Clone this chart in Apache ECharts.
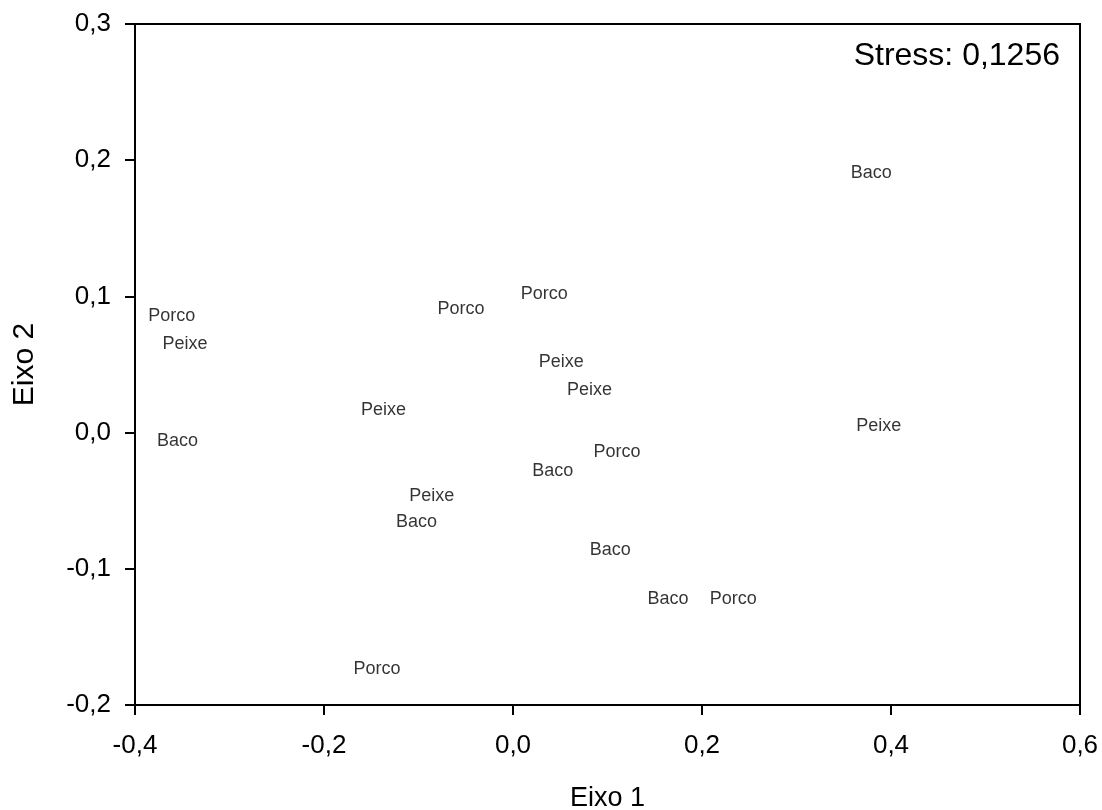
<!DOCTYPE html>
<html><head><meta charset="utf-8">
<script src="https://cdn.jsdelivr.net/npm/echarts@6/dist/echarts.min.js"></script>
<style>html,body{margin:0;padding:0;background:#fff}#c{width:1102px;height:810px}</style>
</head><body><div id="c"></div>
<script>
const labels = ["Porco","Peixe","Baco","Porco","Porco","Peixe","Peixe","Peixe","Porco","Baco","Peixe","Baco","Baco","Baco","Porco","Porco","Baco","Peixe"];
const eixo1 = [-0.361,-0.347,-0.355,-0.055,0.033,0.051,0.081,-0.137,0.110,0.042,-0.086,-0.102,0.103,0.164,0.233,-0.144,0.379,0.387];
const eixo2 = [0.087,0.0665,-0.005,0.092,0.103,0.053,0.033,0.018,-0.013,-0.027,-0.045,-0.064,-0.085,-0.121,-0.121,-0.172,0.192,0.006];
const stressText = "Stress: 0,1256";

const fmt = v => v.toFixed(1).replace('.', ',');
const data = labels.map((l,i)=>({value:[eixo1[i], eixo2[i]], name:l}));
const font = "Arial, 'Liberation Sans', sans-serif";
const chart = echarts.init(document.getElementById('c'));
chart.setOption({
  animation:false,
  grid:{left:135,right:22,top:24,bottom:105,containLabel:false,outerBoundsMode:'none',show:true,borderColor:'#000',borderWidth:2},
  xAxis:{type:'value',min:-0.4,max:0.6,interval:0.2,
    name:'Eixo 1',nameLocation:'middle',nameGap:80,
    nameTextStyle:{fontFamily:font,fontSize:27,color:'#000'},
    axisLine:{onZero:false,lineStyle:{color:'#000',width:2}},
    axisTick:{length:10,lineStyle:{color:'#000',width:2}},
    axisLabel:{formatter:fmt,fontFamily:font,fontSize:26,color:'#000',margin:28},
    splitLine:{show:false}},
  yAxis:{type:'value',min:-0.2,max:0.3,interval:0.1,
    name:'Eixo 2',nameLocation:'middle',nameGap:95,
    nameTextStyle:{fontFamily:font,fontSize:30,color:'#000'},
    axisLine:{onZero:false,lineStyle:{color:'#000',width:2}},
    axisTick:{length:10,lineStyle:{color:'#000',width:2}},
    axisLabel:{formatter:fmt,fontFamily:font,fontSize:26,color:'#000',margin:24},
    splitLine:{show:false}},
  graphic:[{type:'text',right:42,top:40,style:{text:stressText,font:'32px '+font,fill:'#000'}}],
  series:[{type:'scatter',data:data,symbolSize:0,
    label:{show:true,position:'inside',offset:[0,2],formatter:p=>p.name,fontFamily:font,fontSize:18,color:'#000',textBorderWidth:0}}]
});
</script></body></html>
